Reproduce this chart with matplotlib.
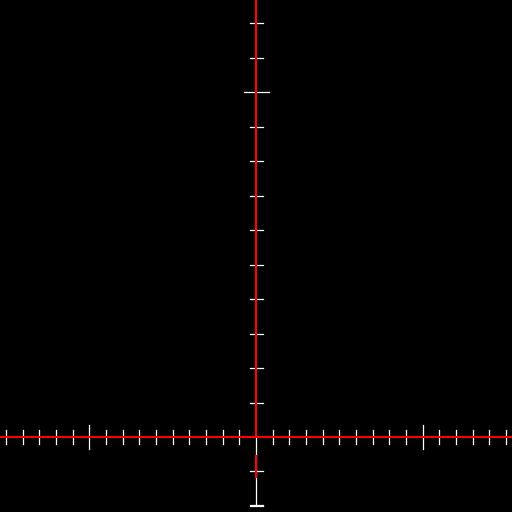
import matplotlib
matplotlib.use('Agg')
import matplotlib.pyplot as plt

# Axis extents (data units)
X_LIMITS = (-15.36, 15.36)
Y_LIMITS = (-2.174, 12.667)

# Tick positions
x_minor_ticks = [t for t in range(-15, 16) if t != 0 and t not in (-10, 10)]
x_major_ticks = [-10, 10]
y_minor_ticks = [t for t in range(-2, 13) if t != 0 and t != 10]
y_major_ticks = [10]

# Red highlighted pieces of the vertical axis (y ranges)
red_v_segments = [(0, 12.667), (-0.55, -1.16)]
white_v_segment = (-1.97, 0)

MINOR_X = 0.39   # half-length of ticks on vertical axis (x units)
MAJOR_X = 0.75
MINOR_Y = 0.19   # half-length of ticks on horizontal axis (y units)
MAJOR_Y = 0.36

fig = plt.figure(figsize=(5.12, 5.12), dpi=100, facecolor='black')
ax = fig.add_axes([0, 0, 1, 1])
ax.set_facecolor('black')
ax.set_xlim(*X_LIMITS)
ax.set_ylim(*Y_LIMITS)
ax.axis('off')

# white lower part of vertical axis
ax.plot([0, 0], white_v_segment, color='white', lw=0.9, zorder=2)

# ticks on horizontal axis
for t in x_minor_ticks:
    ax.plot([t, t], [-MINOR_Y, MINOR_Y], color='white', lw=0.9, zorder=2)
for t in x_major_ticks:
    ax.plot([t, t], [-MAJOR_Y, MAJOR_Y], color='white', lw=0.9, zorder=2)

# ticks on vertical axis
for t in y_minor_ticks:
    ax.plot([-MINOR_X, MINOR_X], [t, t], color='white', lw=0.9, zorder=2)
for t in y_major_ticks:
    ax.plot([-MAJOR_X, MAJOR_X], [t, t], color='white', lw=0.9, zorder=2)
ax.plot([-MINOR_X, MINOR_X], [white_v_segment[0]] * 2, color='white', lw=0.9, zorder=2)

# red axes
ax.plot(X_LIMITS, [0, 0], color='#ff0000', lw=1.5, zorder=3)
for y0, y1 in red_v_segments:
    ax.plot([0, 0], [y0, y1], color='#ff0000', lw=1.5, zorder=3)

fig.savefig('out.png', dpi=100, facecolor='black')
